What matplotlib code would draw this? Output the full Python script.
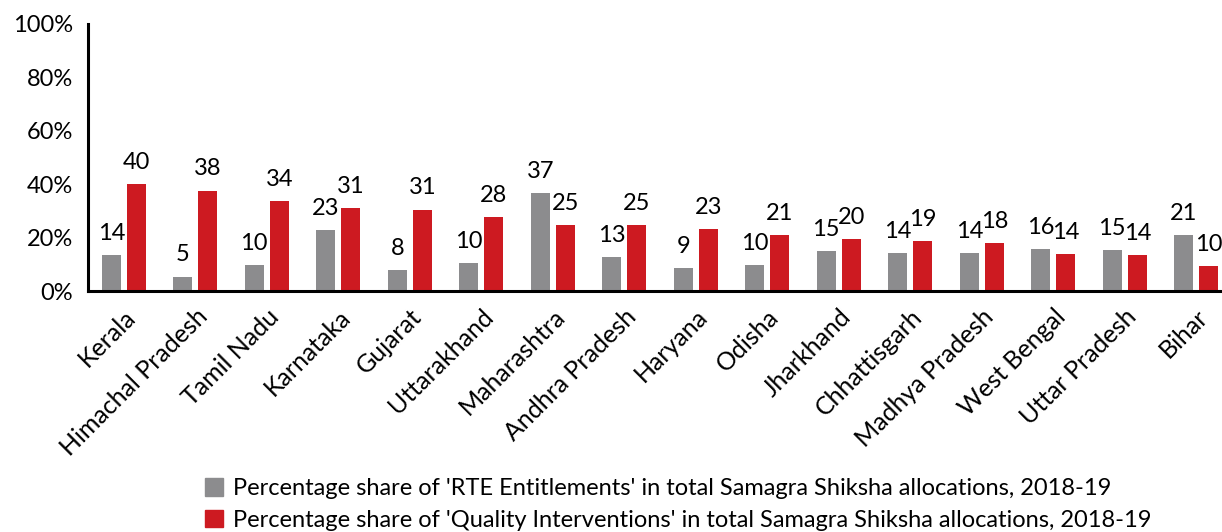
import numpy as np
import matplotlib
matplotlib.use("Agg")
import matplotlib.pyplot as plt
from matplotlib.patches import Patch

plt.rcParams['font.family'] = ['Lato', 'DejaVu Sans']

states = ["Kerala", "Himachal Pradesh", "Tamil Nadu", "Karnataka", "Gujarat",
          "Uttarakhand", "Maharashtra", "Andhra Pradesh", "Haryana", "Odisha",
          "Jharkhand", "Chhattisgarh", "Madhya Pradesh", "West Bengal",
          "Uttar Pradesh", "Bihar"]
rte = [13.6, 5.4, 9.8, 22.9, 7.9, 10.4, 36.6, 12.8, 8.6, 9.8, 15.0, 14.3, 14.3, 15.8, 15.4, 21.0]
quality = [40.0, 37.6, 33.8, 31.2, 30.5, 27.8, 24.6, 24.6, 23.3, 21.0, 19.6, 18.8, 18.0, 13.9, 13.3, 9.5]
rte_labels = [14, 5, 10, 23, 8, 10, 37, 13, 9, 10, 15, 14, 14, 16, 15, 21]
quality_labels = [40, 38, 34, 31, 31, 28, 25, 25, 23, 21, 20, 19, 18, 14, 14, 10]

grey = "#8c8c8e"
red = "#cd1a21"

fig = plt.figure(figsize=(12.22, 5.32), dpi=100)
ax = fig.add_axes([0.072, 0.453, 0.928, 0.502])

x = np.arange(len(states))
w = 0.266
off = 0.175
b1 = ax.bar(x - off, rte, w, color=grey)
b2 = ax.bar(x + off, quality, w, color=red)

for bars, labs in ((b1, rte_labels), (b2, quality_labels)):
    for b, lab in zip(bars, labs):
        ax.annotate(str(lab), (b.get_x() + b.get_width() / 2, b.get_height()),
                    xytext=(0, 8), textcoords="offset points",
                    ha="center", va="bottom", fontsize=17)

ax.set_ylim(0, 100)
ax.set_yticks(np.arange(0, 101, 20))
ax.set_yticklabels([f"{v}%" for v in range(0, 101, 20)], fontsize=17)
ax.set_xlim(-0.5, 15.36)
ax.set_xticks(x)
ax.set_xticklabels(states, rotation=45, ha="right", rotation_mode="anchor", fontsize=18)
ax.tick_params(axis="both", length=0)
ax.tick_params(axis="y", pad=11)
ax.tick_params(axis="x", pad=10)
for s in ("top", "right"):
    ax.spines[s].set_visible(False)
for s in ("left", "bottom"):
    ax.spines[s].set_linewidth(2.2)

handles = [Patch(color=grey), Patch(color=red)]
fig.legend(handles,
           ["Percentage share of 'RTE Entitlements' in total Samagra Shiksha allocations, 2018-19",
            "Percentage share of 'Quality Interventions' in total Samagra Shiksha allocations, 2018-19"],
           loc="lower left", bbox_to_anchor=(0.158, -0.02), frameon=False, fontsize=17,
           handlelength=0.75, handleheight=0.75, handletextpad=0.45, labelspacing=0.45,
           borderpad=0)

fig.savefig("out.png", dpi=100)
